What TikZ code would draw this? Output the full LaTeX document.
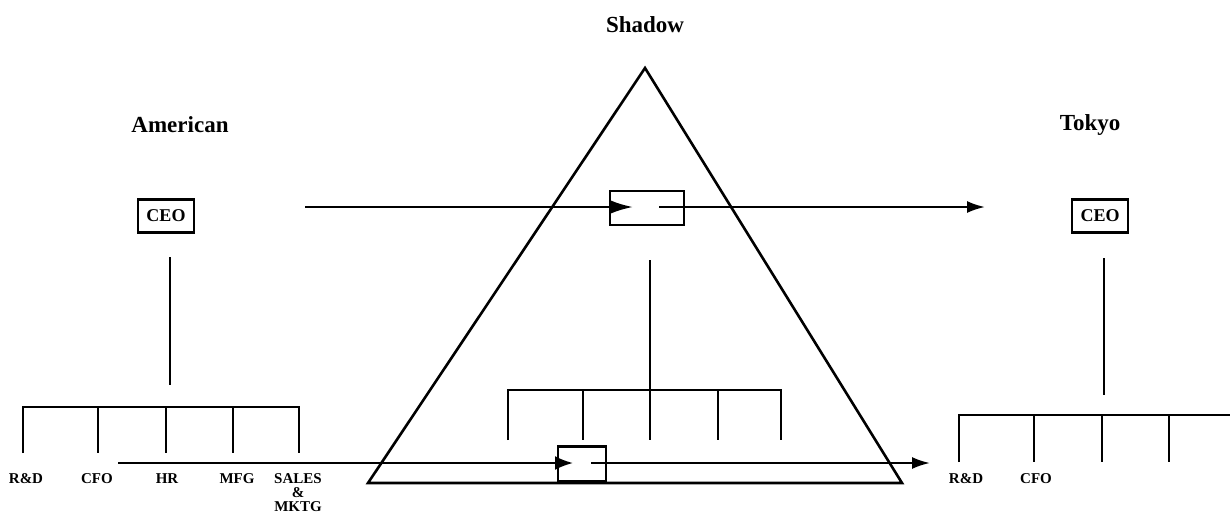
\documentclass[tikz,border=0pt]{standalone}
\usepackage{fontspec}
\setmainfont{Liberation Serif}
\usetikzlibrary{arrows.meta}
\begin{document}
\begin{tikzpicture}[x=1pt,y=-1pt,
  ln/.style={line width=2.2pt},
  title/.style={font=\fontsize{23}{25}\selectfont\bfseries, inner sep=0pt},
  lbl/.style={font=\fontsize{15}{14}\selectfont\bfseries, align=center, inner sep=0pt, anchor=north},
  box/.style={draw, line width=2.2pt, inner sep=0pt, font=\fontsize{18}{20}\selectfont\bfseries},
  ceobox/.style={box, minimum width=56pt, minimum height=33pt},
  arr/.style={ln, -{Latex[length=18pt,width=12pt]}},
  inarr/.style={ln, -{Latex[length=22pt,width=13pt]}}]
\useasboundingbox (0,0) rectangle (1230,525);

% titles
\node[title] (shadow) at (645,25) {Shadow};
\node[title] (american) at (180,125) {American};
\node[title] (tokyo) at (1090,125) {Tokyo};

% the shadow pyramid
\coordinate (apex) at (645,68);
\coordinate (baseR) at (902,483);
\coordinate (baseL) at (368,483);
\draw[line width=2.6pt, line join=miter] (apex) -- (baseR) -- (baseL) -- cycle;

% ---------- American organisation ----------
\node[ceobox] (ceoA) at (166,216) {CEO};
\coordinate (aTrunkTop) at (170,257);
\coordinate (aTrunkBot) at (170,385);
\draw[ln] (aTrunkTop) -- (aTrunkBot);
\coordinate (aL) at (23,407);
\coordinate (aR) at (299,407);
\draw[ln] (23,453) -- (aL) -- (aR) -- (299,453);
\foreach \x in {98,166,233} \draw[ln] (\x,407) -- (\x,453);
\node[lbl] (aRD) at (26,473) {R\&D};
\node[lbl] (aCFO) at (97,473) {CFO};
\node[lbl] (aHR) at (167,473) {HR};
\node[lbl] (aMFG) at (237,473) {MFG};
\node[lbl] (aSM) at (298,473) {SALES\\\&\\MKTG};

% ---------- Shadow organisation ----------
\coordinate (sTrunkTop) at (650,260);
\coordinate (sTrunkBot) at (650,440);
\draw[ln] (sTrunkTop) -- (sTrunkBot);
\coordinate (sL) at (508,390);
\coordinate (sR) at (781,390);
\draw[ln] (508,440) -- (sL) -- (sR) -- (781,440);
\foreach \x in {583,718} \draw[ln] (\x,390) -- (\x,440);

% ---------- Tokyo organisation ----------
\node[ceobox] (ceoT) at (1100,216) {CEO};
\coordinate (tTrunkTop) at (1104,258);
\coordinate (tTrunkBot) at (1104,395);
\draw[ln] (tTrunkTop) -- (tTrunkBot);
\coordinate (tL) at (959,415);
\coordinate (tR) at (1230,415);
\draw[ln] (959,462) -- (tL) -- (tR);
\foreach \x in {1034,1102,1169} \draw[ln] (\x,415) -- (\x,462);
\node[lbl] (tRD) at (966,473) {R\&D};
\node[lbl] (tCFO) at (1036,473) {CFO};

% ---------- upper flow through the shadow ----------
\node[box, minimum width=74pt, minimum height=34pt] (gateTop) at (647,208) {};
\coordinate (upStart) at (305,207);
\coordinate (upIn) at (633,207);
\coordinate (upOut) at (659,207);
\coordinate (upEnd) at (985,207);
\draw[inarr] (upStart) -- (upIn);
\draw[arr] (upOut) -- (upEnd);

% ---------- lower flow through the shadow ----------
\node[box, minimum width=48pt, minimum height=35pt] (gateLow) at (582,464) {};
\coordinate (lowStart) at (118,463);
\coordinate (lowIn) at (573,463);
\coordinate (lowOut) at (591,463);
\coordinate (lowEnd) at (930,463);
\draw[ln, -{Latex[length=18pt,width=14pt]}] (lowStart) -- (lowIn);
\draw[arr] (lowOut) -- (lowEnd);
\end{tikzpicture}
\end{document}
